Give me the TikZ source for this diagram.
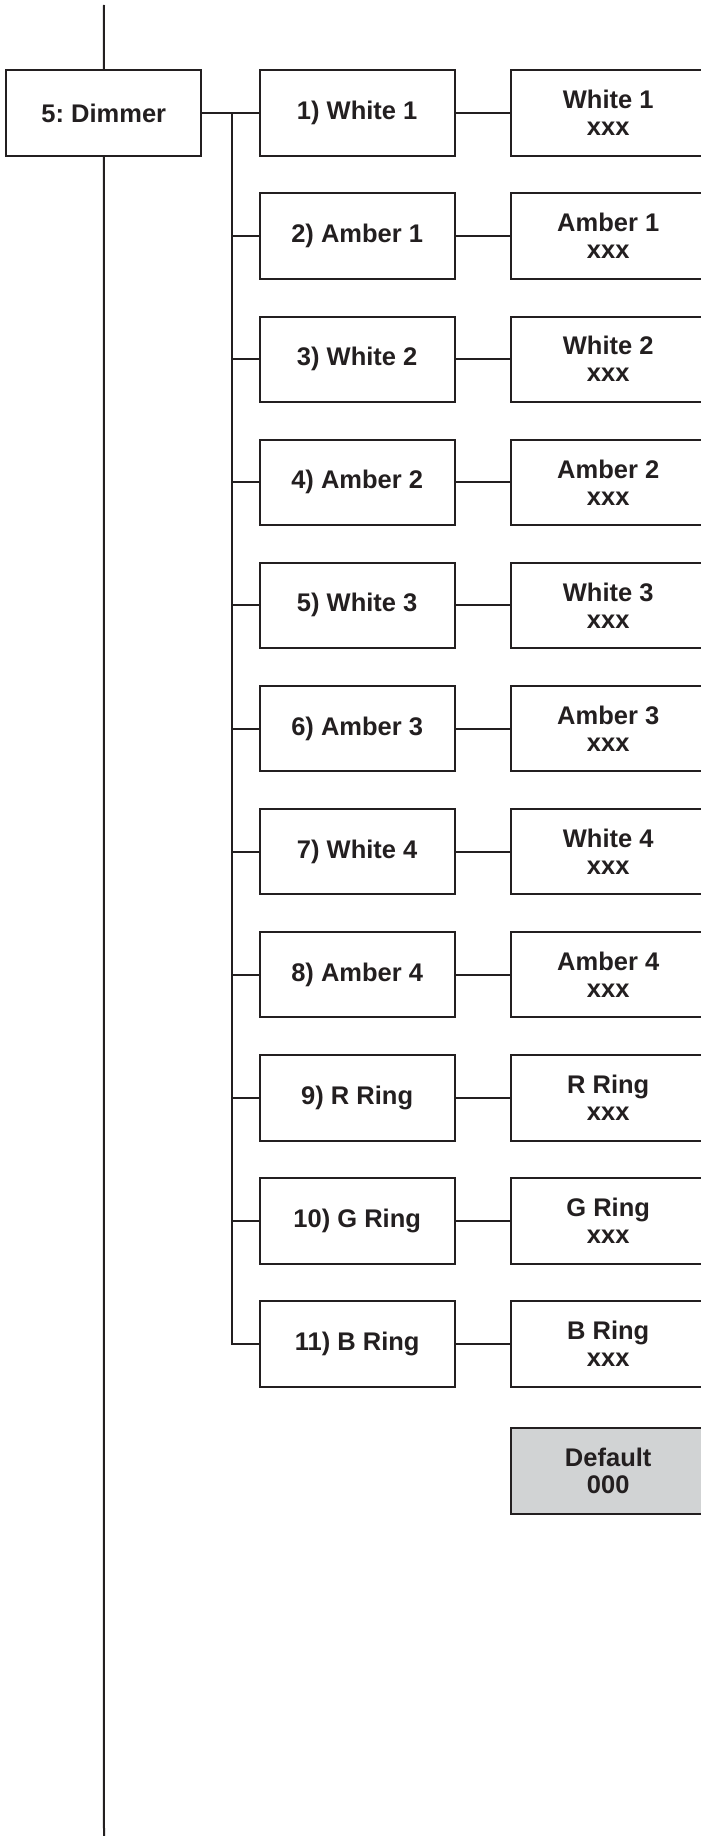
\documentclass[tikz,border=0pt]{standalone}
\usepackage{fontspec}
\setmainfont{Liberation Sans}
\definecolor{ink}{HTML}{231F20}
\definecolor{dflt}{HTML}{D1D3D4}
\frenchspacing
\begin{document}
\begin{tikzpicture}[x=1pt,y=-1pt,
  box/.style={draw=ink, line width=2pt, minimum width=195pt, minimum height=85.4pt,
    inner sep=0pt, font=\fontsize{25.5}{27}\selectfont\bfseries, text=ink, align=center},
  link/.style={draw=ink, line width=2pt}]
\useasboundingbox (0,0) rectangle (701,1836);
\node[box] (dim) at (103.8,113) {5: Dimmer};
\coordinate (top) at (104,5);
\coordinate (bot) at (104,1840);
\draw[link] (top) -- (dim.north);
\draw[link] (dim.south) -- (bot);
\foreach \i/\m/\v in {1/1) White 1/White 1, 2/2) Amber 1/Amber 1, 3/3) White 2/White 2,
  4/4) Amber 2/Amber 2, 5/5) White 3/White 3, 6/6) Amber 3/Amber 3, 7/7) White 4/White 4,
  8/8) Amber 4/Amber 4, 9/9) R Ring/R Ring, 10/10) G Ring/G Ring, 11/11) B Ring/B Ring}{
  \pgfmathsetmacro{\yy}{113+123.1*(\i-1)}
  \node[box] (m\i) at (357.2,\yy) {\m};
  \node[box] (v\i) at (608.2,\yy) {\v\\xxx};
  \draw[link] (m\i.east) -- (v\i.west);
}
\node[box, fill=dflt] (def) at (608.2,1470.8) {Default\\000};
\coordinate (bt) at (232,113);
\draw[link] (dim.east) -- (m1.west);
\draw[link] (bt) |- (m11.west);
\foreach \i in {2,...,10}{
  \draw[link] (m\i.west) -- (m\i.west -| bt);
}
\end{tikzpicture}
\end{document}
